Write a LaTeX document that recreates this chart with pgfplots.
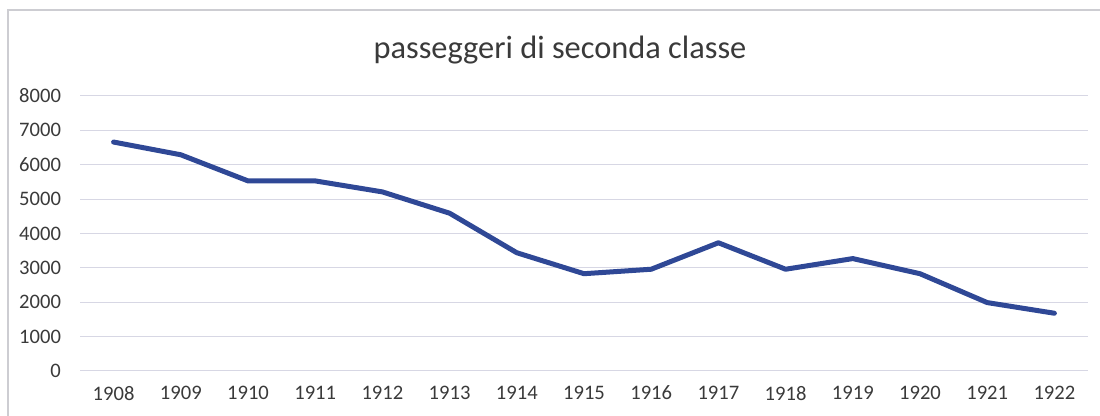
\documentclass[border=0pt]{standalone}
\usepackage{pgfplots}
\pgfplotsset{compat=1.18}
\usepackage{fontspec}
\setmainfont{Carlito}
\definecolor{lineblue}{RGB}{47,72,150}
\definecolor{gridc}{RGB}{215,215,228}
\definecolor{txt}{RGB}{58,58,58}
\definecolor{frame}{RGB}{205,205,210}
\newcommand{\tickfont}{\fontsize{10.3}{12}\selectfont}
\begin{document}
\begin{tikzpicture}
\useasboundingbox (0,0) rectangle (550pt,208pt);
\draw[frame, line width=0.6pt] (4pt,0) -- (4pt,203pt) -- (550pt,203pt);
\node[text=txt, font=\fontsize{16.2}{19}\selectfont] at (280pt,183pt) {passeggeri di seconda classe};
\begin{axis}[
  at={(40pt,22.5pt)}, anchor=south west,
  scale only axis, width=504pt, height=137.5pt,
  xmin=-0.5, xmax=14.5, ymin=0, ymax=8000,
  xtick={0,...,14},
  xticklabels={1908,1909,1910,1911,1912,1913,1914,1915,1916,1917,1918,1919,1920,1921,1922},
  ytick={0,1000,...,8000},
  axis line style={draw=none},
  major tick length=0pt,
  ymajorgrids, grid style={gridc, line width=0.5pt},
  tick label style={text=txt, font=\tickfont},
  /pgf/number format/assume math mode=true,
  /pgf/number format/1000 sep={},
  yticklabel style={xshift=-6pt},
  xticklabel style={yshift=-4pt},
]
\addplot[lineblue, line width=2.5pt, line join=round, line cap=round] coordinates {
(0,6660) (1,6290) (2,5530) (3,5530) (4,5210) (5,4590) (6,3440) (7,2830)
(8,2960) (9,3730) (10,2960) (11,3270) (12,2830) (13,1990) (14,1680)
};
\end{axis}
\end{tikzpicture}
\end{document}
